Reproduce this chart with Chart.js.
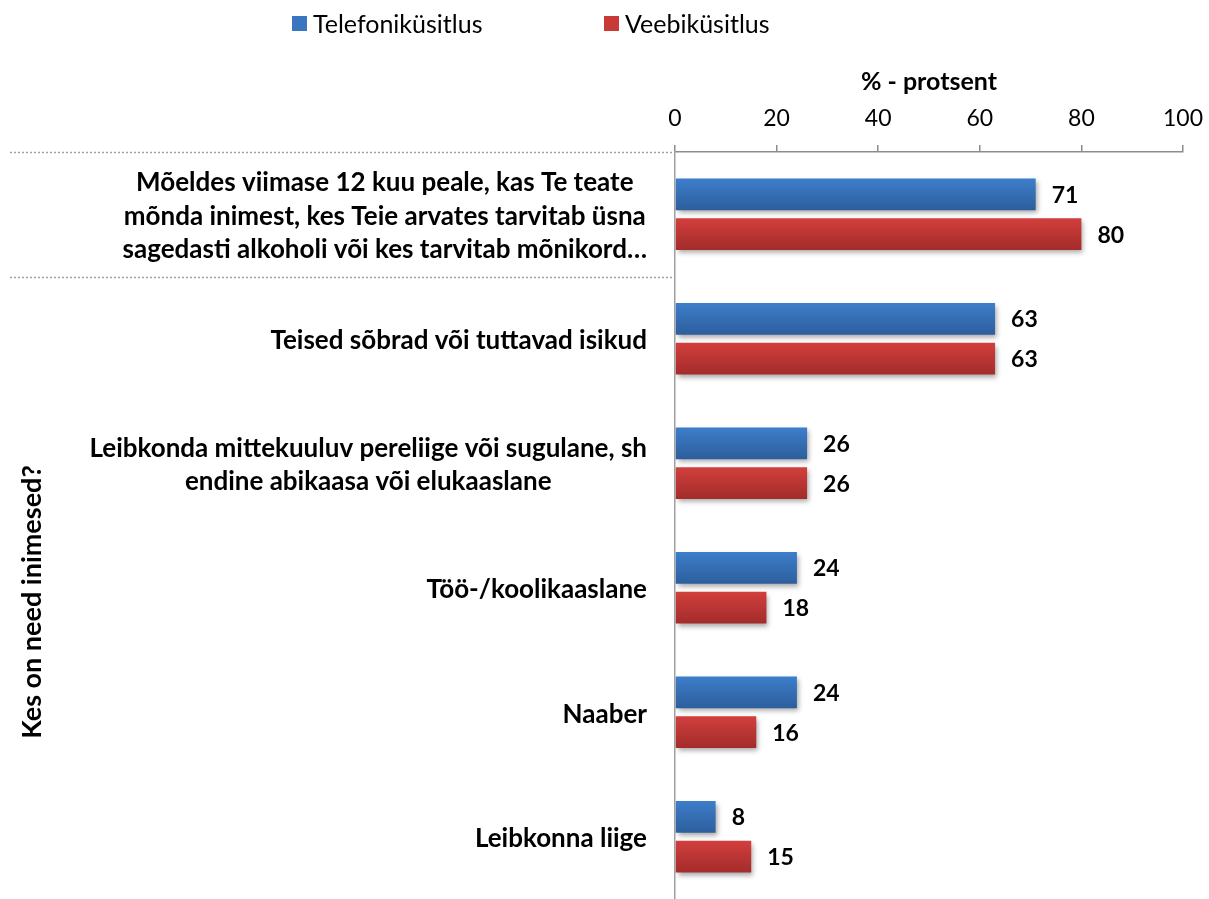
<!DOCTYPE html>
<html><head><meta charset="utf-8">
<script src="https://cdn.jsdelivr.net/npm/chart.js@4.4.1/dist/chart.umd.min.js"></script>
<style>html,body{margin:0;padding:0;background:#fff}#wrap{width:1209px;height:899px;position:relative}</style>
</head><body><div id="wrap"><canvas id="c" width="1209" height="899"></canvas></div>
<script>
const categories = [
  ["Mõeldes viimase 12 kuu peale, kas Te teate", "mõnda inimest, kes Teie arvates tarvitab üsna", "sagedasti alkoholi või kes tarvitab mõnikord…"],
  "Teised sõbrad või tuttavad isikud",
  ["Leibkonda mittekuuluv pereliige või sugulane, sh", "endine abikaasa või elukaaslane"],
  "Töö-/koolikaaslane",
  "Naaber",
  "Leibkonna liige"
];
const seriesNames = ["Telefoniküsitlus", "Veebiküsitlus"];
const telefon = [71, 63, 26, 24, 24, 8];
const veeb = [80, 63, 26, 18, 16, 15];
const xTickValues = [0, 20, 40, 60, 80, 100];
const xTitle = "% - protsent";
const yTitle = "Kes on need inimesed?";

const FONT = "Lato, 'Open Sans', sans-serif";
const CAT_PCT = 0.64, BAR_PCT = 0.8;
const blueStops = ["#3d7ecb", "#2d5e9c"];
const redStops = ["#d23f3d", "#a22c2a"];
const legendSwatch = ["#3a76c0", "#c83a37"];

function barGradient(c, stops) {
  const chart = c.chart, ys = chart.scales.y;
  if (!ys || c.dataIndex === undefined || ys.bottom === undefined) return stops[0];
  const cat = (ys.bottom - ys.top) / categories.length;
  const thick = cat * CAT_PCT / 2 * BAR_PCT;
  const center = ys.getPixelForValue(c.dataIndex) + (c.datasetIndex === 0 ? -1 : 1) * cat * CAT_PCT / 4;
  const g = chart.ctx.createLinearGradient(0, center - thick / 2, 0, center + thick / 2);
  g.addColorStop(0, stops[0]);
  g.addColorStop(1, stops[1]);
  return g;
}

const shadowPlugin = {
  id: 'shadow',
  beforeDatasetsDraw(chart) {
    const ctx = chart.ctx;
    ctx.save();
    ctx.shadowColor = 'rgba(0,0,0,0.35)';
    ctx.shadowBlur = 5;
    ctx.shadowOffsetX = 2;
    ctx.shadowOffsetY = 3;
  },
  afterDatasetsDraw(chart) { chart.ctx.restore(); }
};

const decoPlugin = {
  id: 'deco',
  afterDraw(chart) {
    const ctx = chart.ctx, ys = chart.scales.y;
    ctx.save();
    // legend
    ctx.font = "25px " + FONT;
    ctx.textBaseline = 'middle';
    ctx.textAlign = 'left';
    const legX = [292, 604];
    seriesNames.forEach((n, i) => {
      ctx.fillStyle = legendSwatch[i];
      ctx.fillRect(legX[i], 16, 15, 15);
      ctx.fillStyle = '#000';
      ctx.fillText(n, legX[i] + 21, 25);
    });
    // y title
    ctx.save();
    ctx.translate(32, 602);
    ctx.rotate(-Math.PI / 2);
    ctx.font = "bold 27px " + FONT;
    ctx.textAlign = 'center';
    ctx.textBaseline = 'middle';
    ctx.fillStyle = '#000';
    ctx.fillText(yTitle, 0, 0);
    ctx.restore();
    // category labels
    ctx.font = "bold 26px " + FONT;
    ctx.fillStyle = '#000';
    ctx.textBaseline = 'middle';
    const rightEdge = ys.right - 28;
    categories.forEach((lab, i) => {
      const cy = ys.getPixelForValue(i) + 2;
      if (Array.isArray(lab)) {
        const w = Math.max(...lab.map(l => ctx.measureText(l).width));
        const lh = 33.5;
        ctx.textAlign = 'center';
        lab.forEach((l, k) => {
          ctx.fillText(l, rightEdge - w / 2, cy + (k - (lab.length - 1) / 2) * lh);
        });
      } else {
        ctx.textAlign = 'right';
        ctx.fillText(lab, rightEdge, cy);
      }
    });
    // dotted category separators
    const cat = (ys.bottom - ys.top) / categories.length;
    ctx.strokeStyle = '#a0a0a0';
    ctx.lineWidth = 1.5;
    ctx.setLineDash([2, 2]);
    [ys.top, ys.top + cat].forEach(y => {
      ctx.beginPath();
      ctx.moveTo(10, Math.round(y) + 0.5);
      ctx.lineTo(ys.right, Math.round(y) + 0.5);
      ctx.stroke();
    });
    ctx.setLineDash([]);
    // data labels
    ctx.font = "bold 23px " + FONT;
    ctx.textAlign = 'left';
    ctx.textBaseline = 'middle';
    chart.data.datasets.forEach((ds, di) => {
      chart.getDatasetMeta(di).data.forEach((el, j) => {
        ctx.fillText(String(ds.data[j]), el.x + 16, el.y + 1);
      });
    });
    ctx.restore();
  }
};

new Chart(document.getElementById('c'), {
  type: 'bar',
  data: {
    labels: categories,
    datasets: [
      { label: seriesNames[0], data: telefon, backgroundColor: c => barGradient(c, blueStops), borderWidth: 0 },
      { label: seriesNames[1], data: veeb, backgroundColor: c => barGradient(c, redStops), borderWidth: 0 }
    ]
  },
  options: {
    indexAxis: 'y',
    responsive: false,
    animation: false,
    devicePixelRatio: 1,
    layout: { padding: { left: 0, right: 26, top: 0, bottom: 0 } },
    datasets: { bar: { categoryPercentage: CAT_PCT, barPercentage: BAR_PCT } },
    plugins: { legend: { display: false }, tooltip: { enabled: false } },
    scales: {
      x: {
        position: 'top',
        min: 0, max: 100,
        afterBuildTicks: s => { s.ticks = xTickValues.map(v => ({ value: v })); },
        ticks: { font: { family: FONT, size: 23 }, color: '#000', padding: 13, maxRotation: 0 },
        grid: { drawOnChartArea: false, drawTicks: true, tickLength: 7, color: '#8c8c8c', lineWidth: 1.5 },
        border: { color: '#8c8c8c', width: 1.5 },
        title: { display: true, text: xTitle, font: { family: FONT, size: 25, weight: 'bold' }, color: '#000', padding: { top: 67, bottom: 2 } },
        afterFit: s => { s.height = 152; s.paddingRight = 0; s.paddingLeft = 0; }
      },
      y: {
        ticks: { display: false },
        grid: { display: false },
        border: { color: '#a0a0a0', width: 1.5, dash: [2, 2] },
        afterFit: s => { s.width = 675; }
      }
    }
  },
  plugins: [shadowPlugin, decoPlugin]
});
</script>
</body></html>
